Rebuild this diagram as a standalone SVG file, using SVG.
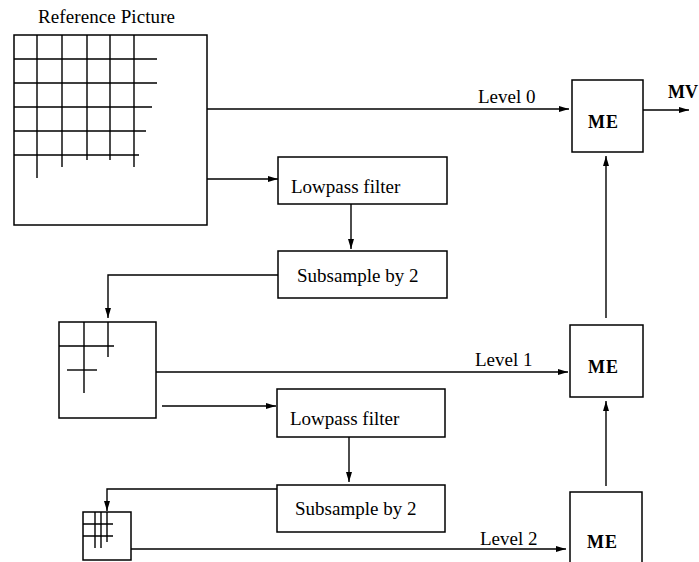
<svg xmlns="http://www.w3.org/2000/svg" width="699" height="562" viewBox="0 0 699 562">
<defs>
<marker id="ah" markerUnits="userSpaceOnUse" markerWidth="12" markerHeight="8" refX="10" refY="4" orient="auto">
<path d="M0,1 L10,4 L0,7 Z" fill="#000"/>
</marker>
<style>
.box{fill:#fff;stroke:#000;stroke-width:1.5}
.grid{stroke:#000;stroke-width:1.4;fill:none}
.c{stroke:#000;stroke-width:1.4;fill:none;marker-end:url(#ah)}
.cn{stroke:#000;stroke-width:1.4;fill:none}
.t{font-family:"Liberation Serif","Times New Roman",serif;font-size:19px;fill:#000}
.b{font-family:"Liberation Serif","Times New Roman",serif;font-size:18px;font-weight:bold;fill:#000}
</style>
</defs>
<rect width="699" height="562" fill="#fff"/>

<g id="connectors">
<path class="c" d="M207,109 H569"/>
<path class="c" d="M643,110 H689"/>
<path class="c" d="M207,179 H278"/>
<path class="c" d="M351,204 V249"/>
<path class="c" d="M278,275 H108 V318"/>
<path class="c" d="M156,372 H568"/>
<path class="c" d="M162,406 H276"/>
<path class="c" d="M349,437 V482"/>
<path class="c" d="M277,489 H107 V511"/>
<path class="c" d="M131,549 H566"/>
<path class="c" d="M606,486 V401"/>
<path class="c" d="M606,318 V156"/>
</g>

<g id="reference-picture">
<text class="t" x="38" y="23" font-size="18" textLength="137">Reference Picture</text>
<rect class="box" x="14" y="35" width="193" height="190"/>
<path class="grid" d="M37,35 V178 M62,35 V167 M87,35 V160 M110,35 V160 M134,35 V167 M14,59 H157 M14,83 H157 M14,107 H152 M14,131 H146 M14,155 H139"/>
</g>

<g id="level1-picture">
<rect class="box" x="59" y="322" width="97" height="96"/>
<path class="grid" d="M84,322 V393 M108,322 V357 M59,346 H114"/>
<path class="grid" d="M67,370 H97" stroke-width="2"/>
</g>

<g id="level2-picture">
<rect class="box" x="83" y="512" width="48" height="48"/>
<path class="grid" d="M95,512 V548 M101,512 V548 M107,512 V542 M83,524 H113 M83,536 H113"/>
</g>

<g id="lowpass1">
<rect class="box" x="278" y="157" width="169" height="47"/>
<text class="t" x="291" y="193">Lowpass filter</text>
</g>

<g id="subsample1">
<rect class="box" x="278" y="251" width="169" height="47"/>
<text class="t" x="297" y="282">Subsample by 2</text>
</g>

<g id="lowpass2">
<rect class="box" x="277" y="389" width="168" height="48"/>
<text class="t" x="290" y="425">Lowpass filter</text>
</g>

<g id="subsample2">
<rect class="box" x="277" y="485" width="168" height="47"/>
<text class="t" x="295" y="515">Subsample by 2</text>
</g>

<g id="me0">
<rect class="box" x="572" y="80" width="71" height="72"/>
<text class="b" x="588" y="128" textLength="30">ME</text>
</g>

<g id="me1">
<rect class="box" x="570" y="325" width="73" height="72"/>
<text class="b" x="588" y="373" textLength="30">ME</text>
</g>

<g id="me2">
<rect class="box" x="570" y="492" width="72" height="75"/>
<text class="b" x="587" y="548" textLength="30">ME</text>
</g>

<g id="labels">
<text class="t" x="478" y="103">Level 0</text>
<text class="t" x="475" y="366">Level 1</text>
<text class="t" x="480" y="545">Level 2</text>
<text class="b" x="668" y="98" font-size="17">MV</text>
</g>
</svg>
